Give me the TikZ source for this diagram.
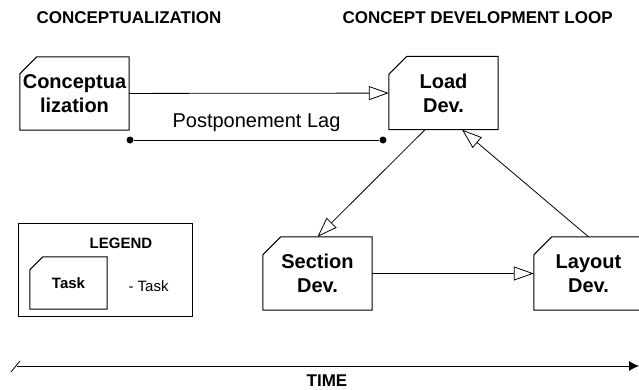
\documentclass[tikz,border=0pt]{standalone}
\usepackage{fontspec}
\setmainfont{Liberation Sans}
\usetikzlibrary{arrows.meta}

\begin{document}
\begin{tikzpicture}[
		x=1pt, y=-1pt,
		taskbox/.style={
		% The shape (outline drawn later, with the cut corner):
		rectangle,
		% The size:
		minimum width=109pt,
		minimum height=73pt,
		inner sep=1pt,
		% Font
		align=center,
		font=\fontsize{20}{24}\selectfont\bfseries
		},
		header/.style={
		anchor=west,
		font=\fontsize{17}{20}\selectfont\bfseries
		},
		lagdot/.style={
		circle,
		fill=black,
		inner sep=0pt,
		minimum size=7pt
		},
		flow/.style={
		-{Triangle[open,length=20pt,width=14pt]},
		line width=0.8pt
		}
	]
	\useasboundingbox (0,0) rectangle (639,389);

	% headings
	\node (H1)[header] at (33,18) {CONCEPTUALIZATION};
	\node (H2)[header] at (339,18) {CONCEPT DEVELOPMENT LOOP};

	% tasks
	\node (CON)[taskbox] at (74.5,93.5) {Conceptua\\lization};
	\node (LOAD)[taskbox] at (443.5,93) {Load\\Dev.};
	\node (SEC)[taskbox] at (317.5,273.5) {Section\\Dev.};
	\node (LAY)[taskbox] at (588.5,273.5) {Layout\\Dev.};

	% legend
	\node (LEG)[draw, line width=0.8pt, minimum width=174pt, minimum height=93pt] at (105,269.5) {};
	\node (LEGT) at (121,243) {\fontsize{15}{18}\selectfont\bfseries LEGEND};
	\node (TASK)[taskbox, minimum width=77pt, minimum height=52pt,
		font=\fontsize{15}{18}\selectfont\bfseries] at (68.5,283) {Task};
	\node (TASKT)[anchor=west] at (125,286) {\fontsize{15}{18}\selectfont - Task};

	% task outlines with the cut top left corner
	\foreach \n/\c in {CON/17,LOAD/18,SEC/18,LAY/18,TASK/13}
		\draw[line width=1pt] (\n.south west) -- ([yshift=-\c pt]\n.north west)
			-- ([xshift=\c pt]\n.north west) -- (\n.north east)
			-- (\n.south east) -- cycle;

	% postponement lag
	\node (P1)[lagdot] at (130,140) {};
	\node (P2)[lagdot] at (383,140) {};
	\draw [line width=0.8pt] (P1) -- node[above=5pt, font=\fontsize{20}{24}\selectfont] {Postponement Lag} (P2);

	% flows between the tasks
	\draw [flow] (CON) -- (LOAD);
	\draw [flow] ([xshift=-18.5pt]LOAD.south) -- (SEC.north);
	\draw [flow] (SEC) -- (LAY);
	\draw [flow] (LAY.north) -- ([xshift=18.5pt]LOAD.south);

	% time axis
	\coordinate (T0) at (17,366);
	\coordinate (T1) at (639,366);
	\draw [line width=0.8pt, -{Latex[length=10pt,width=10pt]}] (T0) -- (T1);
	\draw [line width=0.8pt] (T0) ++(-6,6) -- ++(9,-11);
	\node (TIME) at (327,381) {\fontsize{17}{20}\selectfont\bfseries TIME};
\end{tikzpicture}
\end{document}
